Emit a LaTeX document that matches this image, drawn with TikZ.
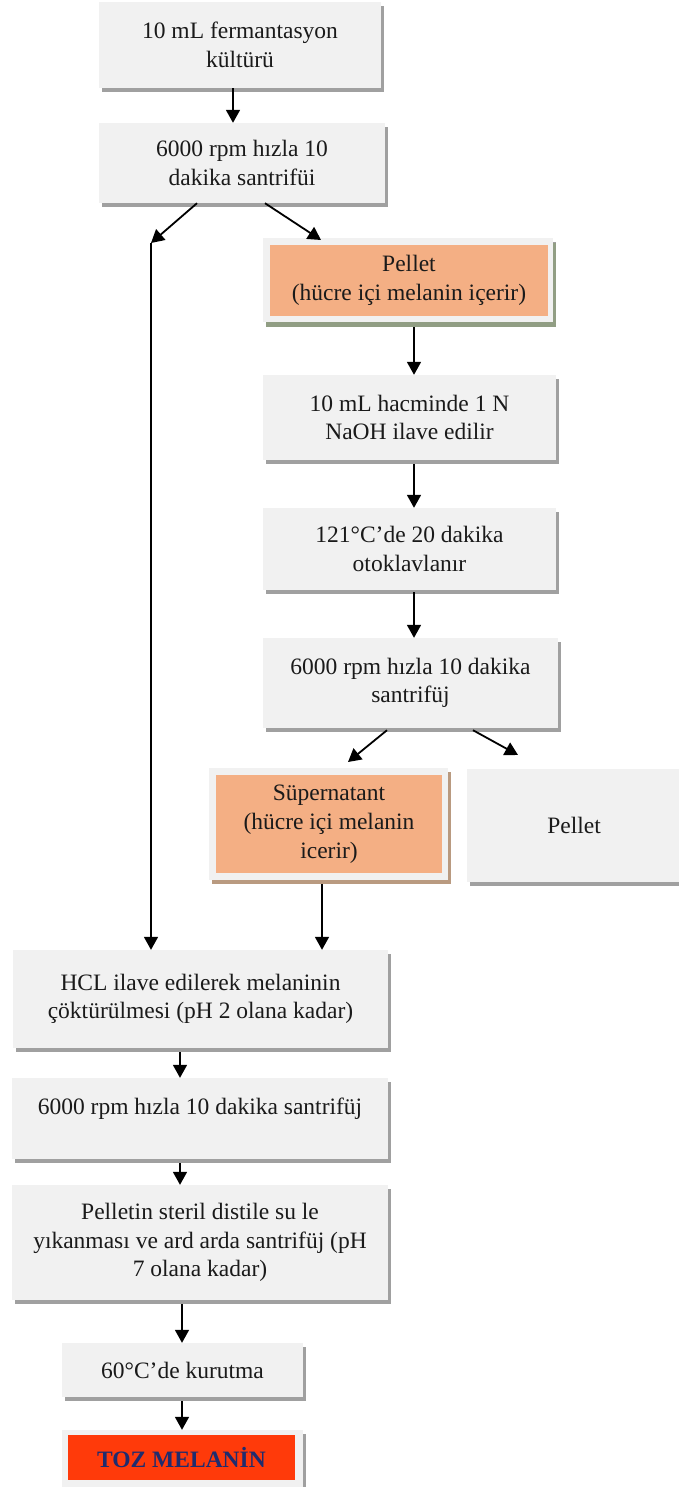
\documentclass[tikz,border=0pt]{standalone}
\usepackage{fontspec}
\setmainfont{Liberation Serif}
\usetikzlibrary{arrows.meta,shadows}
\definecolor{boxgray}{HTML}{F1F1F1}
\definecolor{shgray}{HTML}{A0A0A0}
\definecolor{orng}{HTML}{F4AF84}
\definecolor{shgreen}{HTML}{919E84}
\definecolor{shbrown}{HTML}{B99A80}
\definecolor{tozred}{HTML}{FF3A0A}
\definecolor{tozblue}{HTML}{1F2C6E}
\definecolor{txt}{HTML}{1A1A1A}
\tikzset{
  box/.style={fill=boxgray, draw=none, align=center, inner sep=0pt, text=txt,
    font=\fontsize{23.5}{28.5}\selectfont,
    general shadow={fill=shgray, shadow xshift=3pt, shadow yshift=-4pt}},
  inbox/.style={fill=orng, draw=none, align=center, inner sep=0pt, text=txt,
    font=\fontsize{23.5}{29}\selectfont},
  arr/.style={draw=black, line width=1.8pt, -{Triangle[length=13pt,width=14pt]}}
}
\begin{document}
\begin{tikzpicture}[x=1pt,y=-1pt]
\useasboundingbox (0,0) rectangle (678,1487);
% boxes
\node[box, minimum width=282pt, minimum height=86pt] (b1) at (240,45) {10 mL fermantasyon\\kültürü};
\node[box, minimum width=286pt, minimum height=80pt] (b2) at (242,163) {6000 rpm hızla 10\\dakika santrifüi};
\node[box, minimum width=290pt, minimum height=84pt,
  general shadow={fill=shgreen, shadow xshift=3pt, shadow yshift=-5pt}] (p1) at (408,280) {};
\node[inbox, minimum width=278pt, minimum height=71pt] (p1in) at (409,280.5) {Pellet\\(hücre içi melanin içerir)};
\node[box, minimum width=293pt, minimum height=85pt] (b4) at (409.5,417.5) {10 mL hacminde 1 N\\NaOH ilave edilir};
\node[box, minimum width=293pt, minimum height=82pt] (b5) at (409.5,549) {121°C’de 20 dakika\\otoklavlanır};
\node[box, minimum width=295pt, minimum height=90pt] (b6) at (410.5,683) {6000 rpm hızla 10 dakika\\santrifüj};
\node[box, minimum width=239pt, minimum height=112pt,
  general shadow={fill=shbrown, shadow xshift=3pt, shadow yshift=-4pt}] (s) at (328.5,824) {};
\node[inbox, minimum width=226pt, minimum height=98pt] (sin) at (329,824) {Süpernatant\\(hücre içi melanin\\icerir)};
\node[box, minimum width=214pt, minimum height=113pt] (p2) at (574,825.5) {Pellet};
\node[box, minimum width=375pt, minimum height=98pt] (b9) at (200.5,999) {HCL ilave edilerek melaninin\\çöktürülmesi (pH 2 olana kadar)};
\node[box, minimum width=376pt, minimum height=81pt, text depth=24pt] (b10) at (200,1118.5) {6000 rpm hızla 10 dakika santrifüj};
\node[box, minimum width=376pt, minimum height=115pt] (b11) at (200,1242.5) {Pelletin steril distile su le\\yıkanması ve ard arda santrifüj (pH\\7 olana kadar)};
\node[box, minimum width=241pt, minimum height=54pt] (b12) at (182.5,1370) {60°C’de kurutma};
\node[box, minimum width=241pt, minimum height=60pt] (t) at (182.5,1460) {};
\node[fill=tozred, inner sep=0pt, minimum width=227pt, minimum height=45pt, text=tozblue,
  font=\fontsize{23.5}{28}\selectfont\bfseries] (tin) at (181.5,1457.5) {TOZ MELANİN};
% connectors
\coordinate (c1) at (151,243);
\coordinate (c2) at (321,240);
\coordinate (c3) at (348,762);
\coordinate (c4) at (518,755);
\draw[arr] (b1.south -| 233,0) -- (b2.north -| 233,0);
\draw[arr] (b2.south -| 197,0) -- (c1);
\draw[arr] (b2.south -| 265,0) -- (c2);
\draw[arr] (c1) -- (b9.north -| c1);
\draw[arr] ([yshift=-5pt]p1.south -| 414,0) -- (b4.north -| 414,0);
\draw[arr] ([yshift=-4pt]b4.south -| 414,0) -- (b5.north -| 414,0);
\draw[arr] ([yshift=-2pt]b5.south -| 414,0) -- (b6.north -| 414,0);
\draw[arr] ([yshift=-2pt]b6.south -| 387,0) -- (c3);
\draw[arr] ([yshift=-2pt]b6.south -| 473,0) -- (c4);
\draw[arr] ([yshift=-4pt]s.south -| 322,0) -- (b9.north -| 322,0);
\draw[arr] ([yshift=-4pt]b9.south -| 180,0) -- (b10.north -| 180,0);
\draw[arr] ([yshift=-4pt]b10.south -| 180,0) -- (b11.north -| 180,0);
\draw[arr] ([yshift=-4pt]b11.south -| 182,0) -- (b12.north -| 182,0);
\draw[arr] ([yshift=-4pt]b12.south -| 182,0) -- (t.north -| 182,0);
\end{tikzpicture}
\end{document}
